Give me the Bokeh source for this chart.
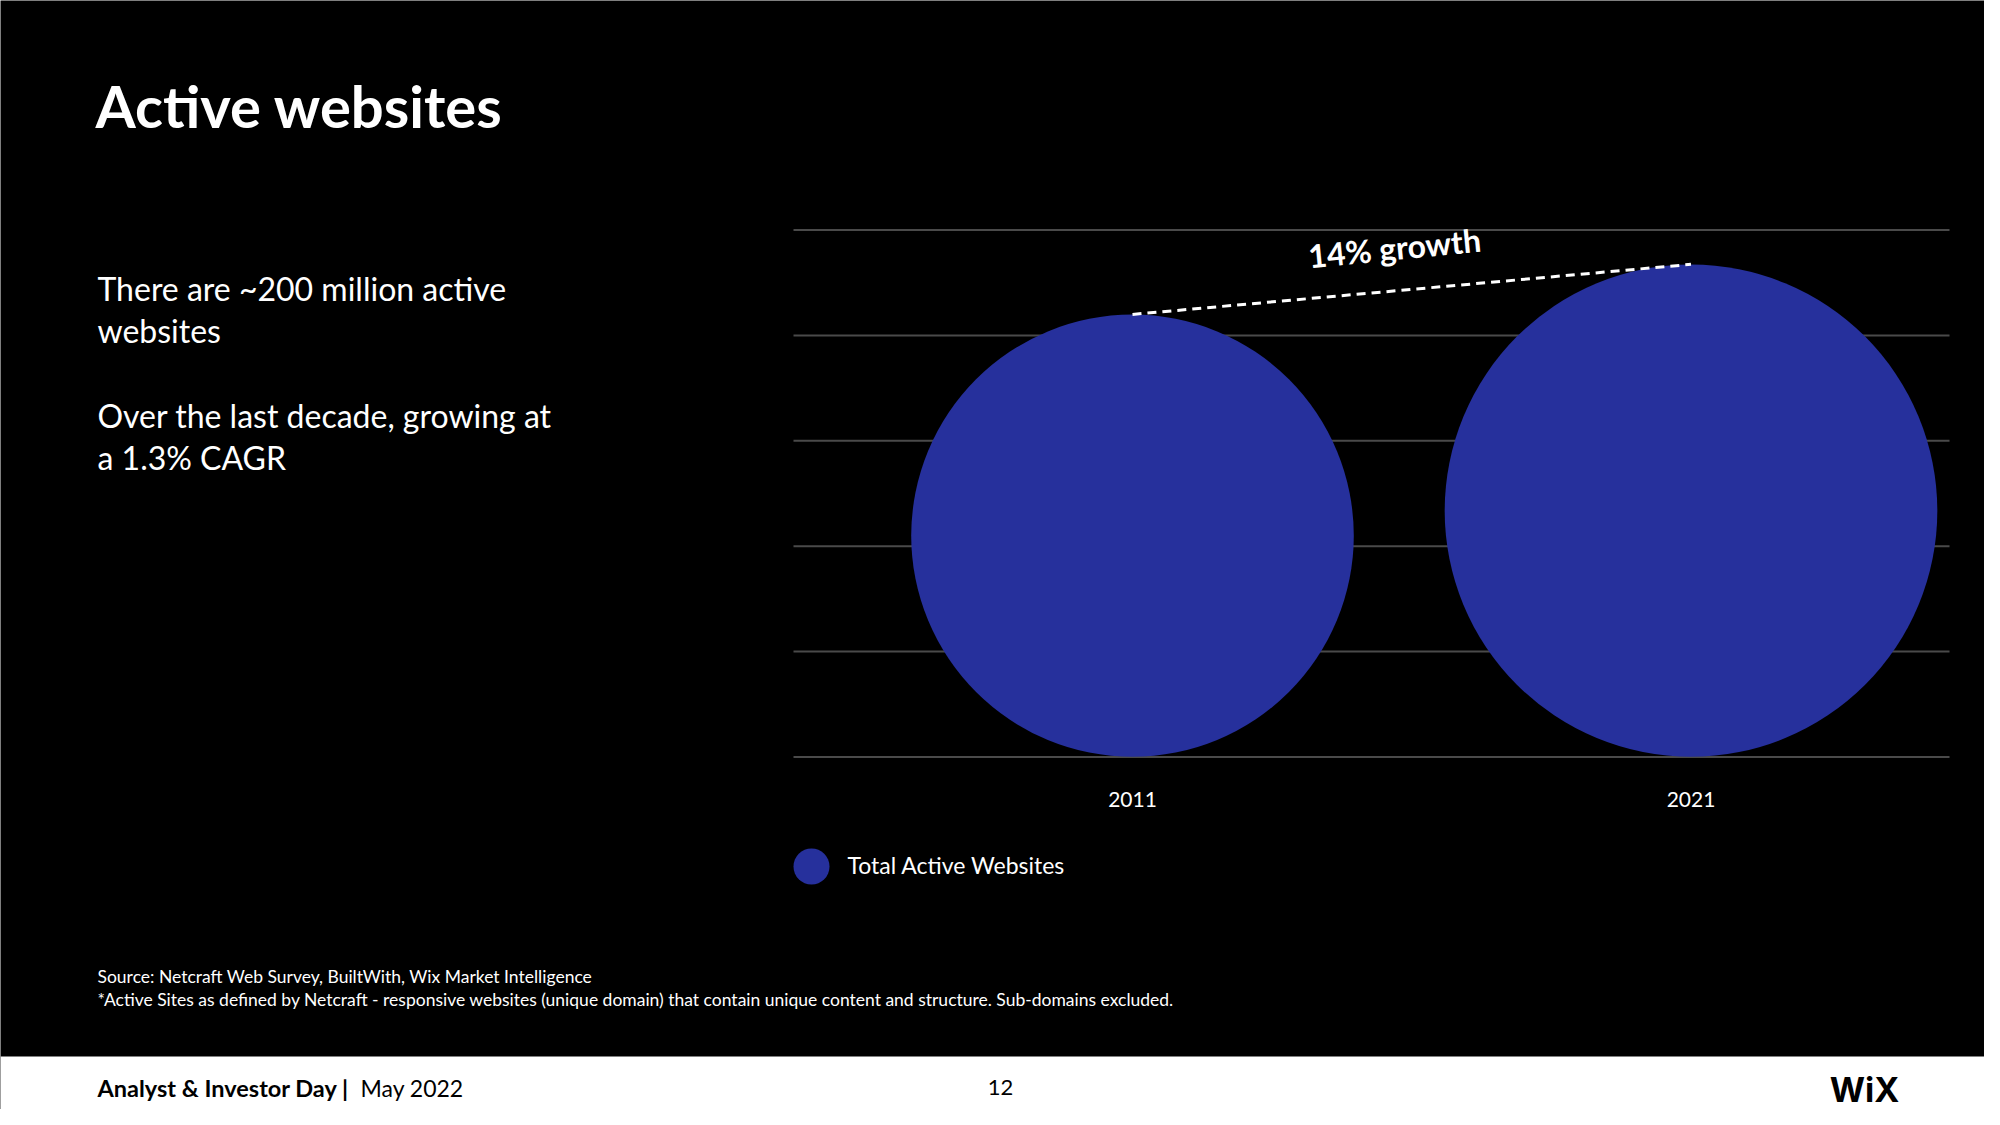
from bokeh.plotting import figure
from bokeh.models import Range1d, ColumnDataSource
from bokeh.core.properties import value
from bokeh.embed import file_html
from bokeh.resources import INLINE
import math

# ---------------- data ----------------
years = [2011, 2021]
year_labels = ["2011", "2021"]
active_sites = [168, 187]          # bubble height (grid units)
grid_ticks = [0, 40, 80, 120, 160, 200]
series_name = "Total Active Websites"
growth_label = "14% growth"

title_text = "Active websites"
body_lines = ["There are ~200 million active", "websites",
              "Over the last decade, growing at", "a 1.3% CAGR"]
source_lines = ["Source: Netcraft Web Survey, BuiltWith, Wix Market Intelligence",
                "*Active Sites as defined by Netcraft - responsive websites (unique domain) that contain unique content and structure. Sub-domains excluded."]
footer_bold = "Analyst & Investor Day |"
footer_regular = "May 2022"
page_number = "12"
logo_text = "WiX"

# ---------------- layout ----------------
W, H = 1984, 1109
FONT = "Lato"
BUBBLE = "#26309c"

p = figure(width=W, height=H, output_backend="svg", toolbar_location=None,
           x_range=Range1d(0, W), y_range=Range1d(H, 0),
           x_axis_location=None, y_axis_location=None, min_border=0)
p.grid.visible = False
p.background_fill_color = "black"
p.border_fill_color = "black"
p.outline_line_color = None

# chart scales mapped onto the page area
BASE_PX, TOP_PX = 756.5, 229.6
px_per_unit = (BASE_PX - TOP_PX) / (grid_ticks[-1] - grid_ticks[0])
p.extra_y_ranges = {"val": Range1d(-(H - BASE_PX) / px_per_unit, BASE_PX / px_per_unit)}
X0_PX, X1_PX = 1132.0, 1690.5
px_per_year = (X1_PX - X0_PX) / (years[1] - years[0])
p.extra_x_ranges = {"yr": Range1d(years[0] - X0_PX / px_per_year,
                                  years[0] + (W - X0_PX) / px_per_year)}

# gridlines
p.segment(x0=[793] * len(grid_ticks), x1=[1949] * len(grid_ticks), y0=grid_ticks, y1=grid_ticks,
          y_range_name="val", line_color="#4a4a4a", line_width=2)

# bubbles sitting on the baseline, diameter = value
src = ColumnDataSource(dict(x=years, v=active_sites,
                            half=[v / 2 for v in active_sites]))
p.circle(x="x", y="half", radius="half", radius_dimension="y", source=src,
         x_range_name="yr", y_range_name="val", fill_color=BUBBLE, line_color=None)

# dashed growth line between bubble tops
p.line(x="x", y="v", source=src, x_range_name="yr", y_range_name="val",
       line_color="white", line_width=3, line_dash="9 6")

p.text(x=[1394], y=[247], text=[growth_label], angle=math.radians(5.5),
       text_font=value(FONT), text_font_style="bold", text_font_size="32px",
       text_color="white", text_align="center", text_baseline="middle")

# category labels
p.text(x=years, y=[799] * 2, text=year_labels, x_range_name="yr",
       text_font=value(FONT), text_font_size="21px", text_color="white",
       text_align="center", text_baseline="middle")

# legend
p.scatter(x=[811], y=[866], size=36, marker="circle", fill_color=BUBBLE, line_color=None)
p.text(x=[847], y=[864], text=[series_name], text_font=value(FONT), text_font_size="23px",
       text_color="white", text_align="left", text_baseline="middle")

# title & body
p.text(x=[95], y=[104.5], text=[title_text], text_font=value(FONT), text_font_style="bold",
       text_font_size="58px", text_color="white", text_baseline="alphabetic")
p.text(x=[97] * 4, y=[287.5, 329.5, 414.5, 456.5], text=body_lines, text_font=value(FONT),
       text_font_size="32px", text_color="white", text_baseline="alphabetic")

# source notes
p.text(x=[97, 97], y=[976, 999], text=source_lines, text_font=value(FONT),
       text_font_size="17.5px", text_color="white", text_baseline="alphabetic")

# footer band
p.quad(left=[0], right=[W], top=[1056], bottom=[H], fill_color="white", line_color=None)
p.text(x=[97], y=[1087], text=[footer_bold], text_font=value(FONT), text_font_style="bold",
       text_font_size="23.5px", text_color="black", text_baseline="alphabetic")
p.text(x=[360], y=[1087], text=[footer_regular], text_font=value(FONT),
       text_font_size="23px", text_color="black", text_baseline="alphabetic")
p.text(x=[1000], y=[1087], text=[page_number], text_font=value(FONT),
       text_font_size="22px", text_color="black", text_align="center", text_baseline="alphabetic")
p.text(x=[1864], y=[1089], text=[logo_text], text_font=value("Inter"), text_font_style="bold",
       text_font_size="34px", text_color="black", text_align="center", text_baseline="alphabetic")

open("out.html", "w").write(file_html(p, INLINE))
